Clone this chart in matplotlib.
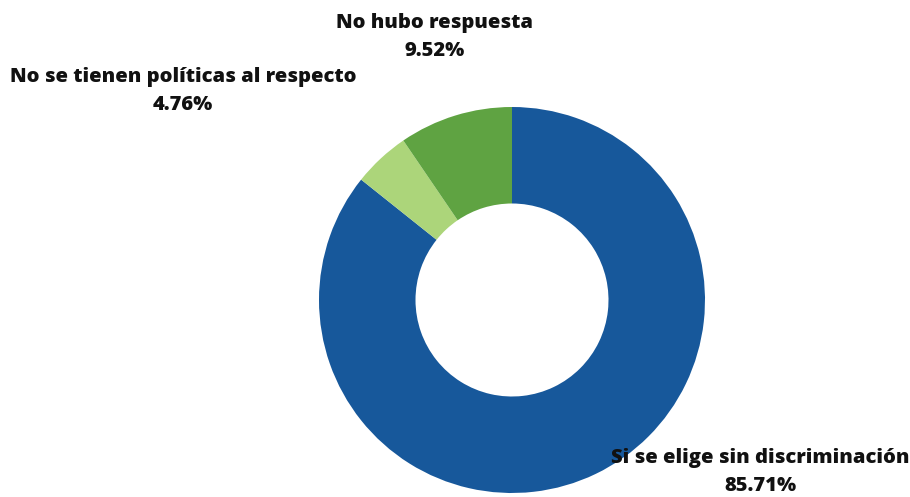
import matplotlib
matplotlib.use("Agg")
import matplotlib.pyplot as plt

categorias = ["Si se elige sin discriminación", "No se tienen políticas al respecto", "No hubo respuesta"]
valores = [85.71, 4.76, 9.52]
colores = ["#17589b", "#acd57a", "#5fa342"]

W, H = 910, 497
fig = plt.figure(figsize=(W / 100, H / 100), dpi=100)

# donut: centro (512, 300) px, radio ~193 px
cx, cy, r = 512, 300, 193
ax = fig.add_axes([(cx - r) / W, (H - cy - r) / H, 2 * r / W, 2 * r / H])
ax.pie(valores, colors=colores, startangle=90, counterclock=False,
       wedgeprops=dict(width=0.5, linewidth=0), radius=1)
ax.set_xlim(-1, 1)
ax.set_ylim(-1, 1)
ax.set_aspect("equal")
ax.axis("off")

# posiciones de etiquetas (px)
pos = [(760, 472), (183, 91), (435, 37)]
for cat, val, (px, py) in zip(categorias, valores, pos):
    fig.text(px / W, 1 - py / H, f"{cat}\n{val:.2f}%", ha="center", va="center",
             fontsize=14.5, fontweight="heavy", family="Open Sans",
             color="#111111", linespacing=1.5)

fig.savefig("out.png", dpi=100)
